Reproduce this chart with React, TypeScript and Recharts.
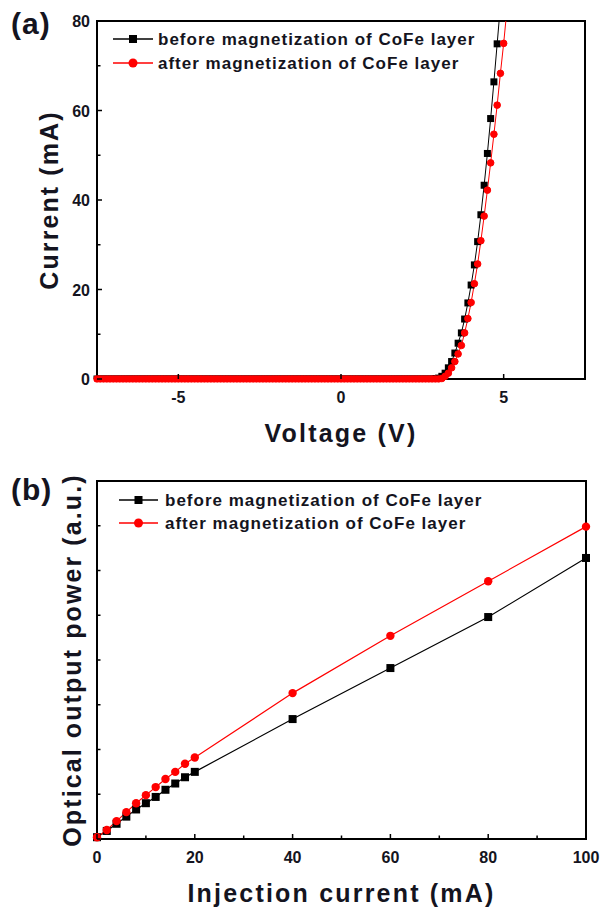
import { LineChart, Line, XAxis, YAxis, Legend, ReferenceArea } from "recharts";

const FONT = '"Liberation Sans", Arial, sans-serif';
const INK = "#141420";

// (a) I-V sweep, 0.1 V steps
const VOLTAGE = [
  -7.5, -7.4, -7.3, -7.2, -7.1, -7.0, -6.9, -6.8, -6.7, -6.6,
  -6.5, -6.4, -6.3, -6.2, -6.1, -6.0, -5.9, -5.8, -5.7, -5.6,
  -5.5, -5.4, -5.3, -5.2, -5.1, -5.0, -4.9, -4.8, -4.7, -4.6,
  -4.5, -4.4, -4.3, -4.2, -4.1, -4.0, -3.9, -3.8, -3.7, -3.6,
  -3.5, -3.4, -3.3, -3.2, -3.1, -3.0, -2.9, -2.8, -2.7, -2.6,
  -2.5, -2.4, -2.3, -2.2, -2.1, -2.0, -1.9, -1.8, -1.7, -1.6,
  -1.5, -1.4, -1.3, -1.2, -1.1, -1.0, -0.9, -0.8, -0.7, -0.6,
  -0.5, -0.4, -0.3, -0.2, -0.1, 0.0, 0.1, 0.2, 0.3, 0.4,
  0.5, 0.6, 0.7, 0.8, 0.9, 1.0, 1.1, 1.2, 1.3, 1.4,
  1.5, 1.6, 1.7, 1.8, 1.9, 2.0, 2.1, 2.2, 2.3, 2.4,
  2.5, 2.6, 2.7, 2.8, 2.9, 3.0, 3.1, 3.2, 3.3, 3.4,
  3.5, 3.6, 3.7, 3.8, 3.9, 4.0, 4.1, 4.2, 4.3, 4.4,
  4.5, 4.6, 4.7, 4.8, 4.9, 5.0, 5.1,
];

const I_BEFORE = [
  0, 0, 0, 0, 0, 0, 0, 0, 0, 0,
  0, 0, 0, 0, 0, 0, 0, 0, 0, 0,
  0, 0, 0, 0, 0, 0, 0, 0, 0, 0,
  0, 0, 0, 0, 0, 0, 0, 0, 0, 0,
  0, 0, 0, 0, 0, 0, 0, 0, 0, 0,
  0, 0, 0, 0, 0, 0, 0, 0, 0, 0,
  0, 0, 0, 0, 0, 0, 0, 0, 0, 0,
  0, 0, 0, 0, 0, 0, 0, 0, 0, 0,
  0, 0, 0, 0, 0, 0, 0, 0, 0, 0,
  0, 0, 0, 0, 0, 0, 0, 0, 0, 0,
  0, 0, 0, 0, 0.1, 0.2, 0.6, 1.3, 2.5, 3.9,
  5.8, 8.0, 10.3, 13.4, 17.0, 21.0, 25.5, 30.7, 36.7, 43.3,
  50.4, 58.2, 66.4, 74.9, 83.5, null, null,
];

const I_AFTER = [
  0, 0, 0, 0, 0, 0, 0, 0, 0, 0,
  0, 0, 0, 0, 0, 0, 0, 0, 0, 0,
  0, 0, 0, 0, 0, 0, 0, 0, 0, 0,
  0, 0, 0, 0, 0, 0, 0, 0, 0, 0,
  0, 0, 0, 0, 0, 0, 0, 0, 0, 0,
  0, 0, 0, 0, 0, 0, 0, 0, 0, 0,
  0, 0, 0, 0, 0, 0, 0, 0, 0, 0,
  0, 0, 0, 0, 0, 0, 0, 0, 0, 0,
  0, 0, 0, 0, 0, 0, 0, 0, 0, 0,
  0, 0, 0, 0, 0, 0, 0, 0, 0, 0,
  0, 0, 0, 0, 0, 0, 0.1, 0.6, 1.3, 2.5,
  3.9, 5.6, 7.5, 10.3, 13.5, 17.1, 21.3, 25.7, 30.9, 36.4,
  42.2, 48.3, 54.7, 61.2, 68.3, 75.0, 82.5,
];

const V_DOMAIN = [-7.5, 7.5];
const I_DOMAIN = [0, 80];
const V_TICKS = [-5, 0, 5];
const I_TICKS = [0, 10, 20, 30, 40, 50, 60, 70, 80];
const I_LABELS = [0, 20, 40, 60, 80];

// (b) L-I
const INJ_CURRENT = [0, 2, 4, 6, 8, 10, 12, 14, 16, 18, 20, 40, 60, 80, 100];
const P_BEFORE = [0.02, 0.09, 0.17, 0.25, 0.33, 0.4, 0.47, 0.55, 0.62, 0.69, 0.75, 1.34, 1.91, 2.48, 3.14];
const P_AFTER = [0.02, 0.1, 0.2, 0.3, 0.4, 0.49, 0.58, 0.67, 0.75, 0.84, 0.91, 1.63, 2.27, 2.88, 3.49];

const INJ_DOMAIN = [0, 100];
const P_DOMAIN = [0, 4];
const INJ_TICKS = [0, 10, 20, 30, 40, 50, 60, 70, 80, 90, 100];
const INJ_LABELS = [0, 20, 40, 60, 80, 100];
const P_TICKS = [0, 0.5, 1, 1.5, 2, 2.5, 3, 3.5, 4];

const SERIES_NAMES = ["before magnetization of CoFe layer", "after magnetization of CoFe layer"];
const SERIES_ORDER = ["before", "after"];

const ivData = VOLTAGE.map((v, i) => ({ v, before: I_BEFORE[i], after: I_AFTER[i] }));
const liData = INJ_CURRENT.map((c, i) => ({ c, before: P_BEFORE[i], after: P_AFTER[i] }));

const frameLine = { stroke: "#000", strokeWidth: 2 };

function squareDot(size: number) {
  return (p: any) => {
    if (p.cx == null || p.cy == null) return <g key={p.index} />;
    return <rect key={p.index} x={p.cx - size / 2} y={p.cy - size / 2} width={size} height={size} fill="#000" />;
  };
}

function circleDot(r: number) {
  return (p: any) => {
    if (p.cx == null || p.cy == null) return <g key={p.index} />;
    return <circle key={p.index} cx={p.cx} cy={p.cy} r={r} fill="#ff0000" />;
  };
}

function BottomTick({ x, y, payload, labels }: any) {
  const major = labels.includes(payload.value);
  return (
    <g>
      <line x1={x} x2={x} y1={y} y2={y - (major ? 5 : 3.5)} stroke="#000" strokeWidth={1.5} />
      {major && (
        <text x={x} y={y + 24} textAnchor="middle" fontFamily={FONT} fontWeight="bold" fontSize={16} fill={INK}>
          {payload.value}
        </text>
      )}
    </g>
  );
}

function LeftTick({ x, y, payload, labels }: any) {
  const major = labels.includes(payload.value);
  return (
    <g>
      <line x1={x} x2={x + (major ? 5 : 3.5)} y1={y} y2={y} stroke="#000" strokeWidth={1.5} />
      {major && (
        <text x={x - 7} y={y + 6} textAnchor="end" fontFamily={FONT} fontWeight="bold" fontSize={16} fill={INK}>
          {payload.value}
        </text>
      )}
    </g>
  );
}

function XTitle(text: string) {
  return (p: any) => {
    const vb = p.viewBox;
    return (
      <text x={vb.x + vb.width / 2} y={vb.y + 63} textAnchor="middle" fontFamily={FONT} fontWeight="bold" fontSize={25} letterSpacing={2.2} fill={INK}>
        {text}
      </text>
    );
  };
}

// baseline x of the rotated title
function YTitle(text: string, bx: number) {
  return (p: any) => {
    const vb = p.viewBox;
    const cy = vb.y + vb.height / 2;
    return (
      <text x={bx} y={cy} transform={`rotate(-90, ${bx}, ${cy})`} textAnchor="middle" fontFamily={FONT} fontWeight="bold" fontSize={25} letterSpacing={2.1} fill={INK}>
        {text}
      </text>
    );
  };
}

function LegendBox({ payload, lineLen, textX, gap }: any) {
  const items = [...(payload || [])].sort(
    (a: any, b: any) => SERIES_ORDER.indexOf(a.dataKey) - SERIES_ORDER.indexOf(b.dataKey)
  );
  return (
    <svg width={420} height={gap + 24} style={{ display: "block" }}>
      {items.map((p: any, i: number) => {
        const cy = 10 + i * gap;
        const red = p.dataKey === "after";
        return (
          <g key={p.dataKey}>
            <line x1={0} x2={lineLen} y1={cy} y2={cy} stroke={p.color} strokeWidth={1.5} />
            {red ? (
              <circle cx={lineLen / 2} cy={cy} r={4.5} fill="#ff0000" />
            ) : (
              <rect x={lineLen / 2 - 4} y={cy - 4} width={8} height={8} fill="#000" />
            )}
            <text x={textX} y={cy + 6} fontFamily={FONT} fontWeight="bold" fontSize={17} letterSpacing={1} fill={INK}>
              {p.value}
            </text>
          </g>
        );
      })}
    </svg>
  );
}

function PanelTag({ text, top }: { text: string; top: number }) {
  return (
    <svg width={70} height={44} style={{ position: "absolute", left: 0, top, pointerEvents: "none" }}>
      <text x={11} y={34} fontFamily={FONT} fontWeight="bold" fontSize={30} letterSpacing={1} fill={INK}>
        {text}
      </text>
    </svg>
  );
}

export default function App() {
  return (
    <div style={{ position: "absolute", left: 0, top: 0, width: 600, height: 908, background: "#fff" }}>
      <div style={{ position: "absolute", left: 0, top: 0 }}>
        <LineChart width={600} height={454} data={ivData} margin={{ top: 21, right: 15, bottom: 0, left: 0 }}>
          <XAxis
            dataKey="v"
            type="number"
            domain={V_DOMAIN}
            ticks={V_TICKS}
            interval={0}
            height={75}
            tickSize={0}
            tickMargin={0}
            tickLine={false}
            axisLine={frameLine}
            tick={(p: any) => <BottomTick {...p} labels={V_TICKS} />}
            label={XTitle("Voltage (V)")}
          />
          <YAxis
            type="number"
            domain={I_DOMAIN}
            allowDataOverflow
            ticks={I_TICKS}
            interval={0}
            width={97}
            tickSize={0}
            tickMargin={0}
            tickLine={false}
            axisLine={frameLine}
            tick={(p: any) => <LeftTick {...p} labels={I_LABELS} />}
            label={YTitle("Current (mA)", 58)}
          />
          <ReferenceArea
            x1={V_DOMAIN[0]}
            x2={V_DOMAIN[1]}
            y1={I_DOMAIN[0]}
            y2={I_DOMAIN[1]}
            fill="none"
            fillOpacity={0}
            stroke="#000"
            strokeWidth={2}
          />
          <Legend
            layout="horizontal"
            verticalAlign="middle"
            align="center"
            wrapperStyle={{ position: "absolute", left: 113, top: 29, width: 420, height: 60 }}
            content={(p: any) => <LegendBox {...p} lineLen={40} textX={45} gap={24} />}
          />
          <Line
            name={SERIES_NAMES[0]}
            dataKey="before"
            type="linear"
            stroke="#000"
            strokeWidth={1}
            dot={squareDot(7)}
            activeDot={false}
            isAnimationActive={false}
          />
          <Line
            name={SERIES_NAMES[1]}
            dataKey="after"
            type="linear"
            stroke="#ff0000"
            strokeWidth={1}
            dot={{ clipDot: false, r: 3.3, fill: "#ff0000", stroke: "#ff0000", strokeWidth: 1 }}
            activeDot={false}
            isAnimationActive={false}
          />
        </LineChart>
        <PanelTag text="(a)" top={0} />
      </div>

      <div style={{ position: "absolute", left: 0, top: 454 }}>
        <LineChart width={600} height={454} data={liData} margin={{ top: 27, right: 14, bottom: 0, left: 0 }}>
          <XAxis
            dataKey="c"
            type="number"
            domain={INJ_DOMAIN}
            ticks={INJ_TICKS}
            interval={0}
            height={69}
            tickSize={0}
            tickMargin={0}
            tickLine={false}
            axisLine={frameLine}
            tick={(p: any) => <BottomTick {...p} labels={INJ_LABELS} />}
            label={XTitle("Injection current (mA)")}
          />
          <YAxis
            type="number"
            domain={P_DOMAIN}
            ticks={P_TICKS}
            interval={0}
            width={97}
            tickSize={0}
            tickMargin={0}
            tickLine={false}
            axisLine={frameLine}
            tick={(p: any) => <LeftTick {...p} labels={[]} />}
            label={YTitle("Optical output power (a.u.)", 81)}
          />
          <ReferenceArea
            x1={INJ_DOMAIN[0]}
            x2={INJ_DOMAIN[1]}
            y1={P_DOMAIN[0]}
            y2={P_DOMAIN[1]}
            fill="none"
            fillOpacity={0}
            stroke="#000"
            strokeWidth={2}
          />
          <Legend
            layout="horizontal"
            verticalAlign="middle"
            align="center"
            wrapperStyle={{ position: "absolute", left: 119, top: 36, width: 420, height: 60 }}
            content={(p: any) => <LegendBox {...p} lineLen={39} textX={46} gap={23} />}
          />
          <Line
            name={SERIES_NAMES[0]}
            dataKey="before"
            type="linear"
            stroke="#000"
            strokeWidth={1.2}
            dot={squareDot(8)}
            activeDot={false}
            isAnimationActive={false}
          />
          <Line
            name={SERIES_NAMES[1]}
            dataKey="after"
            type="linear"
            stroke="#ff0000"
            strokeWidth={1.2}
            dot={circleDot(4.2)}
            activeDot={false}
            isAnimationActive={false}
          />
        </LineChart>
        <PanelTag text="(b)" top={12} />
      </div>
    </div>
  );
}
